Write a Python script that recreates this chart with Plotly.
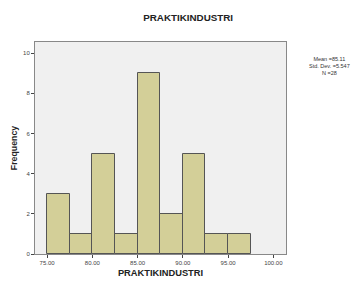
import plotly.graph_objects as go

bin_starts = [75.0, 77.5, 80.0, 82.5, 85.0, 87.5, 90.0, 92.5, 95.0]
bin_width = 2.5
counts = [3, 1, 5, 1, 9, 2, 5, 1, 1]
x_ticks = [75, 80, 85, 90, 95, 100]
x_tick_labels = ["75.00", "80.00", "85.00", "90.00", "95.00", "100.00"]
y_ticks = [0, 2, 4, 6, 8, 10]
stats_lines = ["Mean =85.11", "Std. Dev. =5.547", "N =28"]

centers = [s + bin_width / 2 for s in bin_starts]

fig = go.Figure(go.Bar(
    x=centers, y=counts, width=bin_width,
    marker=dict(color="#d3cf98", line=dict(color="#555555", width=1)),
))

fig.update_layout(
    width=355, height=284,
    margin=dict(l=35, r=69, t=42, b=30, autoexpand=False),
    paper_bgcolor="white", plot_bgcolor="#f0f0f0",
    showlegend=False,
    font=dict(family="Liberation Sans, Arial", color="#222222"),
    title=dict(text="<b>PRAKTIKINDUSTRI</b>", x=0.53, xanchor="center",
               yref="container", y=1 - 18 / 284, yanchor="middle",
               font=dict(size=9.8, color="#222222"), automargin=False),
    bargap=0,
)
fig.update_xaxes(
    range=[73.67, 101.4], tickvals=x_ticks, ticktext=x_tick_labels, automargin=False,
    ticks="outside", ticklen=3, tickcolor="#444444", tickfont=dict(size=6, color="#444444"),
    showgrid=False, zeroline=False, showline=True, linecolor="#888888", linewidth=1, mirror=True,
    title=dict(text="<b>PRAKTIKINDUSTRI</b>", font=dict(size=9.3, color="#222222"), standoff=4),
)
fig.update_yaxes(
    range=[0, 10.55], tickvals=y_ticks, automargin=False,
    ticks="outside", ticklen=3, tickcolor="#444444", tickfont=dict(size=6, color="#444444"),
    showgrid=False, zeroline=False, showline=True, linecolor="#888888", linewidth=1, mirror=True,
    title=dict(text="<b>Frequency</b>", font=dict(size=8.8, color="#222222"), standoff=4),
)
fig.add_annotation(
    xref="paper", yref="paper", x=1.175, y=0.945, xanchor="center", yanchor="top",
    text="<br>".join(stats_lines), showarrow=False, align="center",
    font=dict(size=5.5, color="#333333"),
)
fig.write_html("out.html", config={"displayModeBar": False},
               post_script="document.body.style.margin='0';document.body.style.overflow='hidden';")
